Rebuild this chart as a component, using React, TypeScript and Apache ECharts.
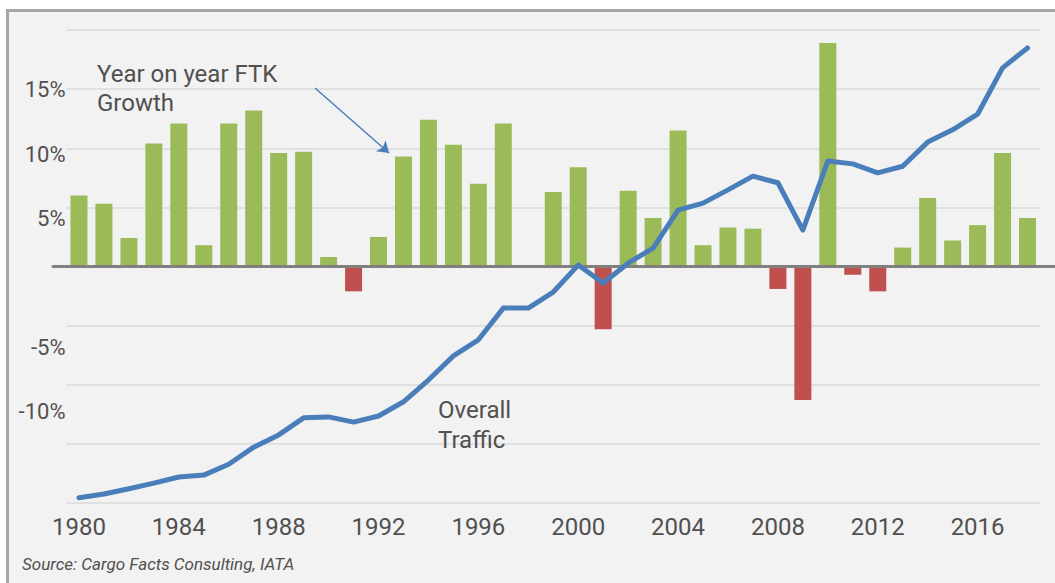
import React, { useEffect, useRef } from "react";
import * as echarts from "echarts";

const years = [
  "1980", "1981", "1982", "1983", "1984", "1985", "1986", "1987", "1988", "1989",
  "1990", "1991", "1992", "1993", "1994", "1995", "1996", "1997", "1998", "1999",
  "2000", "2001", "2002", "2003", "2004", "2005", "2006", "2007", "2008", "2009",
  "2010", "2011", "2012", "2013", "2014", "2015", "2016", "2017", "2018",
];

// Year-on-year FTK growth, %
const ftkGrowth = [
  6.0, 5.3, 2.4, 10.4, 12.1, 1.8, 12.1, 13.2, 9.6, 9.7,
  0.8, -2.1, 2.5, 9.3, 12.4, 10.3, 7.0, 12.1, 0.0, 6.3,
  8.4, -5.3, 6.4, 4.1, 11.5, 1.8, 3.3, 3.2, -1.9, -11.3,
  18.9, -0.7, -2.1, 1.6, 5.8, 2.2, 3.5, 9.6, 4.1,
];

// Overall traffic (index, secondary hidden axis)
const overallTraffic = [
  1.1, 1.9, 3.0, 4.2, 5.5, 5.9, 8.2, 11.8, 14.4, 18.0,
  18.2, 17.1, 18.4, 21.4, 26.0, 31.1, 34.5, 41.2, 41.2, 44.6,
  50.3, 46.5, 50.7, 53.9, 61.9, 63.4, 66.2, 69.1, 67.7, 57.7,
  72.3, 71.7, 69.8, 71.2, 76.3, 78.9, 82.2, 92.0, 96.2,
];

const yTickValues = [15, 10, 5, -5, -10];

const GREEN = "#9bbb59";
const RED = "#c0504d";
const BLUE = "#4a7ebb";
const TEXT = "#505050";
const FONT = "Roboto";

export default function App() {
  const ref = useRef<HTMLDivElement>(null);

  useEffect(() => {
    if (!ref.current) return;
    const chart = echarts.init(ref.current, null, { renderer: "svg" });
    const option: any = {
      animation: false,
      backgroundColor: "#ffffff",
      textStyle: { fontFamily: FONT },
      graphic: [
        {
          type: "rect",
          z: -10,
          silent: true,
          shape: { x: 7.5, y: 10.5, width: 1100, height: 700 },
          style: { fill: "#f2f2f2", stroke: "#a6a6a6", lineWidth: 3 },
        },
        {
          type: "text",
          left: 97,
          top: 59,
          z: 100,
          silent: true,
          style: {
            text: "Year on year FTK\nGrowth",
            fill: TEXT,
            font: `24px ${FONT}`,
            lineHeight: 29,
          },
        },
        {
          type: "text",
          left: 438,
          top: 395,
          z: 100,
          silent: true,
          style: {
            text: "Overall\nTraffic",
            fill: TEXT,
            font: `24px ${FONT}`,
            lineHeight: 30,
          },
        },
        {
          type: "text",
          left: 22,
          top: 555,
          z: 100,
          silent: true,
          style: {
            text: "Source: Cargo Facts Consulting, IATA",
            fill: TEXT,
            font: `italic 17px ${FONT}`,
          },
        },
      ],
      grid: [
        { left: 66.5, right: 15, top: 30, bottom: 80 },
        { left: 66.5, right: 15, top: 25.4, bottom: 42.4 },
        { left: 53, right: 0, top: 30, bottom: 80 },
      ],
      xAxis: [
        {
          type: "category",
          gridIndex: 0,
          data: years,
          axisLine: { show: false },
          axisTick: { show: false },
          axisLabel: {
            interval: 3,
            margin: 12,
            color: TEXT,
            fontSize: 24,
            fontFamily: FONT,
          },
        },
        {
          type: "value",
          gridIndex: 1,
          show: false,
        },
        {
          type: "value",
          gridIndex: 2,
          min: 0,
          max: 1,
          axisLine: {
            show: true,
            onZero: true,
            lineStyle: { color: "#808080", width: 3 },
          },
          axisTick: { show: false },
          axisLabel: { show: false },
          splitLine: { show: false },
          z: 5,
        },
      ],
      yAxis: [
        {
          type: "value",
          gridIndex: 0,
          min: -20,
          max: 20,
          interval: 5,
          axisLine: { show: false },
          axisTick: { show: false },
          axisLabel: { show: false },
          splitLine: { lineStyle: { color: "#dadada", width: 1.5 } },
        },
        {
          type: "value",
          gridIndex: 0,
          min: 0,
          max: 100,
          show: false,
          splitLine: { show: false },
        },
        {
          type: "value",
          gridIndex: 1,
          min: -20,
          max: 20,
          interval: 5,
          axisLine: { show: false },
          axisTick: { show: false },
          splitLine: { show: false },
          axisLabel: {
            margin: 1,
            color: TEXT,
            fontSize: 22,
            fontFamily: FONT,
            formatter: (v: number) => (yTickValues.includes(v) ? `${v}%` : ""),
          },
        },
        {
          type: "value",
          gridIndex: 2,
          min: -20,
          max: 20,
          show: false,
          splitLine: { show: false },
        },
      ],
      series: [
        {
          type: "bar",
          name: "Year on year FTK Growth",
          xAxisIndex: 0,
          yAxisIndex: 0,
          data: ftkGrowth,
          barWidth: 17,
          itemStyle: {
            color: (p: any) => (p.value >= 0 ? GREEN : RED),
          },
          markLine: {
            silent: true,
            symbol: ["none", "arrow"],
            symbolSize: 11,
            label: { show: false },
            lineStyle: { color: BLUE, width: 1.5, type: "solid" },
            data: [[{ x: 315, y: 88 }, { x: 389, y: 153 }]],
          },
        },
        {
          type: "line",
          name: "Overall Traffic",
          xAxisIndex: 0,
          yAxisIndex: 1,
          data: overallTraffic,
          symbol: "none",
          lineStyle: { color: BLUE, width: 5, join: "round", cap: "round" },
          z: 6,
        },
      ],
    };
    chart.setOption(option);
    return () => chart.dispose();
  }, []);

  return (
    <div
      ref={ref}
      style={{ position: "absolute", left: 0, top: 0, width: 1055, height: 583 }}
    />
  );
}
